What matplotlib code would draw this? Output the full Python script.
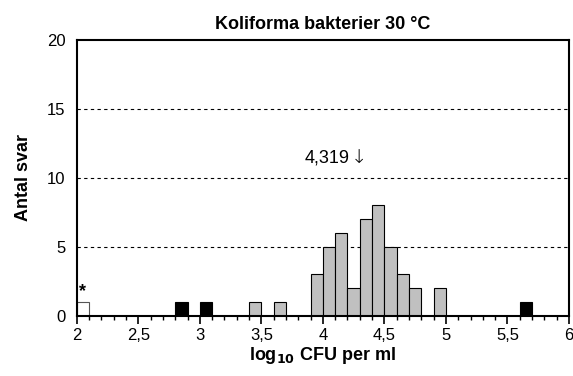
import numpy as np
import matplotlib.pyplot as plt
from matplotlib.ticker import MultipleLocator, FuncFormatter

plt.rcParams['font.family'] = ['Liberation Sans', 'DejaVu Sans']

# bin left edges (log10 CFU/ml, bin width 0.1) and counts per group
bin_width = 0.1
gray_bins = [3.4, 3.6, 3.9, 4.0, 4.1, 4.2, 4.3, 4.4, 4.5, 4.6, 4.7, 4.9]
gray_counts = [1, 1, 3, 5, 6, 2, 7, 8, 5, 3, 2, 2]
black_bins = [2.8, 3.0, 5.6]
black_counts = [1, 1, 1]
white_bins = [2.0]
white_counts = [1]
median = 4.319

fig = plt.figure(figsize=(5.73, 3.76), dpi=100)
ax = fig.add_axes([0.134, 0.160, 0.859, 0.734])

for y in [5, 10, 15]:
    ax.axhline(y, color='black', lw=0.8, ls=(0, (3, 3)), zorder=0)

ax.bar(gray_bins, gray_counts, width=bin_width, align='edge',
       color='#c0c0c0', edgecolor='black', lw=0.8, zorder=2)
ax.bar(black_bins, black_counts, width=bin_width, align='edge',
       color='black', edgecolor='black', lw=0.8, zorder=2)
ax.bar(white_bins, white_counts, width=bin_width, align='edge',
       color='white', edgecolor='#555555', lw=0.8, zorder=2)

ax.text(white_bins[0] + 0.05, white_counts[0] + 0.15, '*', ha='center',
        va='bottom', fontsize=13, fontweight='bold')
# median value with a downward arrow pointing at its position
ax.text(median - 0.10, 11.45, f'{median:.3f}'.replace('.', ','),
        ha='right', va='center', fontsize=13)
ax.text(median - 0.09, 11.45, '\u2193', ha='left', va='center',
        fontsize=14, family=['DejaVu Sans'], fontweight='light')

ax.set_xlim(2, 6)
ax.set_ylim(0, 20)
ax.xaxis.set_major_locator(MultipleLocator(0.5))
ax.xaxis.set_minor_locator(MultipleLocator(0.1))
ax.yaxis.set_major_locator(MultipleLocator(5))
ax.xaxis.set_major_formatter(FuncFormatter(lambda v, p: f'{v:g}'.replace('.', ',')))
ax.tick_params(axis='x', which='major', direction='out', length=6, width=1.2,
               labelsize=12, pad=3)
ax.tick_params(axis='x', which='minor', direction='out', length=3, width=1)
ax.tick_params(axis='y', length=0, labelsize=12, pad=8)

for s in ax.spines.values():
    s.set_linewidth(1.5)

ax.set_title('Koliforma bakterier 30 \u00b0C', fontsize=13, fontweight='bold', pad=8)
ax.set_ylabel('Antal svar', fontsize=13, fontweight='bold', labelpad=11)
ax.set_xlabel(r'log$_{\mathbf{10}}$ CFU per ml', fontsize=13, fontweight='bold', labelpad=1)

fig.savefig('out.png', dpi=100)
